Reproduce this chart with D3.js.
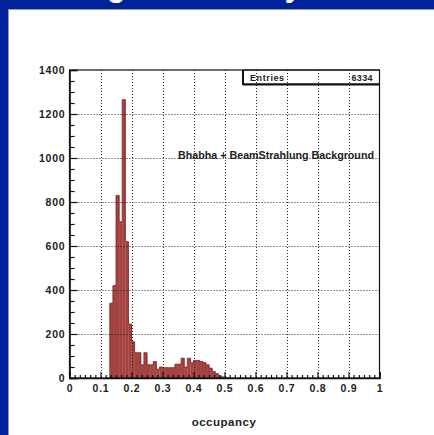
<!DOCTYPE html>
<html><head><meta charset="utf-8">
<script src="https://cdn.jsdelivr.net/npm/d3@7"></script>
<style>
html,body{margin:0;padding:0;background:#00239b;}
svg{display:block;}
text{font-family:"Liberation Sans",Arial,Helvetica,sans-serif;}
</style></head>
<body>
<svg id="c" width="434" height="435"></svg>
<script>
// ---- data ----
const binLow = [0.13,0.14,0.15,0.16,0.17,0.18,0.19,0.20,0.21,0.22,0.23,0.24,0.25,0.26,0.27,0.28,0.29,0.30,0.31,0.32,0.33,0.34,0.35,0.36,0.37,0.38,0.39,0.40,0.41,0.42,0.43,0.44,0.45,0.46,0.47,0.48,0.49,0.50];
const counts = [340,420,830,710,1265,620,245,165,115,115,60,115,60,60,75,40,50,47,47,47,47,63,63,90,50,90,70,80,80,75,70,60,45,30,20,10,5,3];
const binWidth = 0.01;
const xTickValues = [0,0.1,0.2,0.3,0.4,0.5,0.6,0.7,0.8,0.9,1];
const xTickLabels = ["0","0.1","0.2","0.3","0.4","0.5","0.6","0.7","0.8","0.9","1"];
const yTickValues = [0,200,400,600,800,1000,1200,1400];
const yTickLabels = ["0","200","400","600","800","1000","1200","1400"];
const entries = "6334";
const histLabel = "Bhabha + BeamStrahlung Background";
const xTitle = "occupancy";
const slideTitle = "Background study";

const svg = d3.select("#c");
const W = 434, H = 435;
svg.append("rect").attr("width",W).attr("height",H).attr("fill","#00239b");

// slide title (cut off at top, only descenders visible)
svg.append("text").attr("x",34).attr("y",-4).attr("fill","#fff")
  .style("font-size","30.5px").attr("font-weight","bold").text(slideTitle);

// white panel
svg.append("rect").attr("x",8.5).attr("y",9.5).attr("width",W).attr("height",H)
  .attr("fill","#fff").attr("stroke","#9a9a9a").attr("stroke-width",1);

const L = 69.5, R = 379.5, T = 70, B = 378;
const x = d3.scaleLinear().domain([0,1]).range([L,R]);
const y = d3.scaleLinear().domain([0,1400]).range([B,T]);

// histogram bars
const bars = binLow.map((b,i)=>({x0:b,x1:b+binWidth,v:counts[i]}));
svg.append("g").selectAll("rect").data(bars).join("rect")
  .attr("x",d=>x(d.x0)).attr("width",d=>x(d.x1)-x(d.x0)+0.3)
  .attr("y",d=>y(d.v)).attr("height",d=>y(0)-y(d.v))
  .attr("fill","#a4433f");
// outline
const pts = [[bars[0].x0,0]];
bars.forEach(d=>{pts.push([d.x0,d.v]);pts.push([d.x1,d.v]);});
pts.push([bars[bars.length-1].x1,0]);
svg.append("path").attr("d",d3.line().x(p=>x(p[0])).y(p=>y(p[1]))(pts))
  .attr("fill","none").attr("stroke","#7d2424").attr("stroke-width",0.8);

// grid
const grid = svg.append("g").attr("stroke","#222").attr("stroke-width",1).attr("stroke-dasharray","1,2");
grid.selectAll(".gx").data(xTickValues.slice(1,-1)).join("line")
  .attr("x1",d=>Math.round(x(d))+0.5).attr("x2",d=>Math.round(x(d))+0.5).attr("y1",T).attr("y2",B);
grid.selectAll(".gy").data(yTickValues.slice(1,-1)).join("line")
  .attr("y1",d=>Math.round(y(d))+0.5).attr("y2",d=>Math.round(y(d))+0.5).attr("x1",L).attr("x2",R);

// frame
svg.append("rect").attr("x",L).attr("y",T).attr("width",R-L).attr("height",B-T)
  .attr("fill","none").attr("stroke","#111").attr("stroke-width",1.2);

// minor ticks
const xMinor = [];
xTickValues.slice(0,-1).forEach(v=>{for(let k=1;k<6;k++) xMinor.push(v+k*0.1/6);});
const yMinor = [];
yTickValues.slice(0,-1).forEach(v=>{for(let k=1;k<4;k++) yMinor.push(v+k*50);});

const xMinAxis = svg.append("g").attr("transform",`translate(0,${B})`)
  .call(d3.axisBottom(x).tickValues(xMinor).tickSize(-3).tickFormat(""));
const yMinAxis = svg.append("g").attr("transform",`translate(${L},0)`)
  .call(d3.axisLeft(y).tickValues(yMinor).tickSize(-5).tickFormat(""));
[xMinAxis,yMinAxis].forEach(g=>{g.select(".domain").remove();g.selectAll("line").attr("stroke","#111").attr("stroke-width",1.2);});

const xAxis = svg.append("g").attr("transform",`translate(0,${B})`)
  .call(d3.axisBottom(x).tickValues(xTickValues).tickSize(-6).tickPadding(7)
    .tickFormat((d,i)=>xTickLabels[i]));
const yAxis = svg.append("g").attr("transform",`translate(${L},0)`)
  .call(d3.axisLeft(y).tickValues(yTickValues).tickSize(-8).tickPadding(4)
    .tickFormat((d,i)=>yTickLabels[i]));
[xAxis,yAxis].forEach(g=>{
  g.select(".domain").attr("stroke","#111").attr("stroke-width",1.6);
  g.selectAll("line").attr("stroke","#111").attr("stroke-width",1.2);
  g.selectAll("text").attr("font-family","'Liberation Sans',Arial,sans-serif")
    .attr("font-size",10.5).attr("font-weight","bold").attr("fill","#222")
    .attr("letter-spacing","0.8px");
});

// stats box
const sb = svg.append("g");
sb.append("rect").attr("x",243).attr("y",T).attr("width",R-243).attr("height",14)
  .attr("fill","none").attr("stroke","#111").attr("stroke-width",1);
sb.append("line").attr("x1",243).attr("x2",243).attr("y1",T).attr("y2",T+15).attr("stroke","#111").attr("stroke-width",2);
sb.append("line").attr("x1",243).attr("x2",R).attr("y1",T+14.5).attr("y2",T+14.5).attr("stroke","#111").attr("stroke-width",2);
sb.append("text").attr("x",250).attr("y",T+10.5).attr("font-size",9).attr("font-weight","bold")
  .attr("fill","#222").attr("letter-spacing","0.6px").text("Entries");
sb.append("text").attr("x",373).attr("y",T+10.5).attr("font-size",9).attr("font-weight","bold")
  .attr("text-anchor","end").attr("fill","#222").attr("letter-spacing","0.4px").text(entries);

// label in plot
svg.append("text").attr("x",178).attr("y",159).attr("font-size",10.5).attr("font-weight","bold")
  .attr("fill","#222").attr("textLength",196).attr("lengthAdjust","spacingAndGlyphs").text(histLabel);

// x title
svg.append("text").attr("x",224).attr("y",426).attr("text-anchor","middle")
  .attr("font-size",11.5).attr("font-weight","bold").attr("fill","#222")
  .attr("letter-spacing","0.5px").text(xTitle);
</script>
</body></html>
